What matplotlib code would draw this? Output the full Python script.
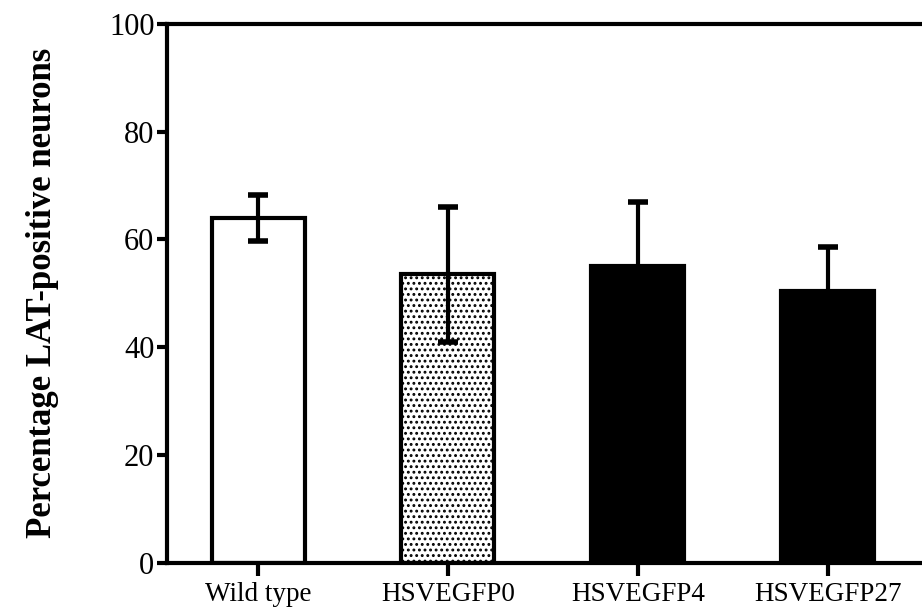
import matplotlib
matplotlib.use("Agg")
import matplotlib.pyplot as plt
import numpy as np

categories = ["Wild type", "HSVEGFP0", "HSVEGFP4", "HSVEGFP27"]
values = [64, 53.5, 55, 50.5]
errors = [4.3, 12.5, 12, 8]

plt.rcParams['font.family'] = ['Liberation Serif', 'DejaVu Serif']
plt.rcParams['hatch.linewidth'] = 1.3

fig = plt.figure(figsize=(9.22, 6.11), dpi=100)
ax = fig.add_axes([0.181, 0.079, 0.83, 0.882])

x = np.arange(len(categories))
faces = ["white", "white", "black", "black"]
hatches = [None, "...", None, None]
for xi, v, fc, h in zip(x, values, faces, hatches):
    ax.bar(xi, v, width=0.49, color=fc, edgecolor="black", linewidth=3, hatch=h, zorder=2)
ax.errorbar(x, values, yerr=errors, fmt="none", ecolor="black", elinewidth=3,
            capsize=7, capthick=4, zorder=3)

ax.set_xlim(-0.48, 3.55)
ax.set_ylim(0, 100)
ax.set_yticks([0, 20, 40, 60, 80, 100])
ax.set_xticks(x)
ax.set_xticklabels(categories, fontsize=19.5)
ax.tick_params(axis="y", labelsize=22, width=3, length=7, direction="out", pad=2)
ax.tick_params(axis="x", width=3, length=9, direction="out", pad=5)
for s in ["left", "top", "bottom"]:
    ax.spines[s].set_linewidth(3)
ax.spines["right"].set_visible(False)
ax.set_ylabel("Percentage LAT-positive neurons", fontsize=25, fontweight="bold", labelpad=36)

fig.savefig("out.png", dpi=100)
